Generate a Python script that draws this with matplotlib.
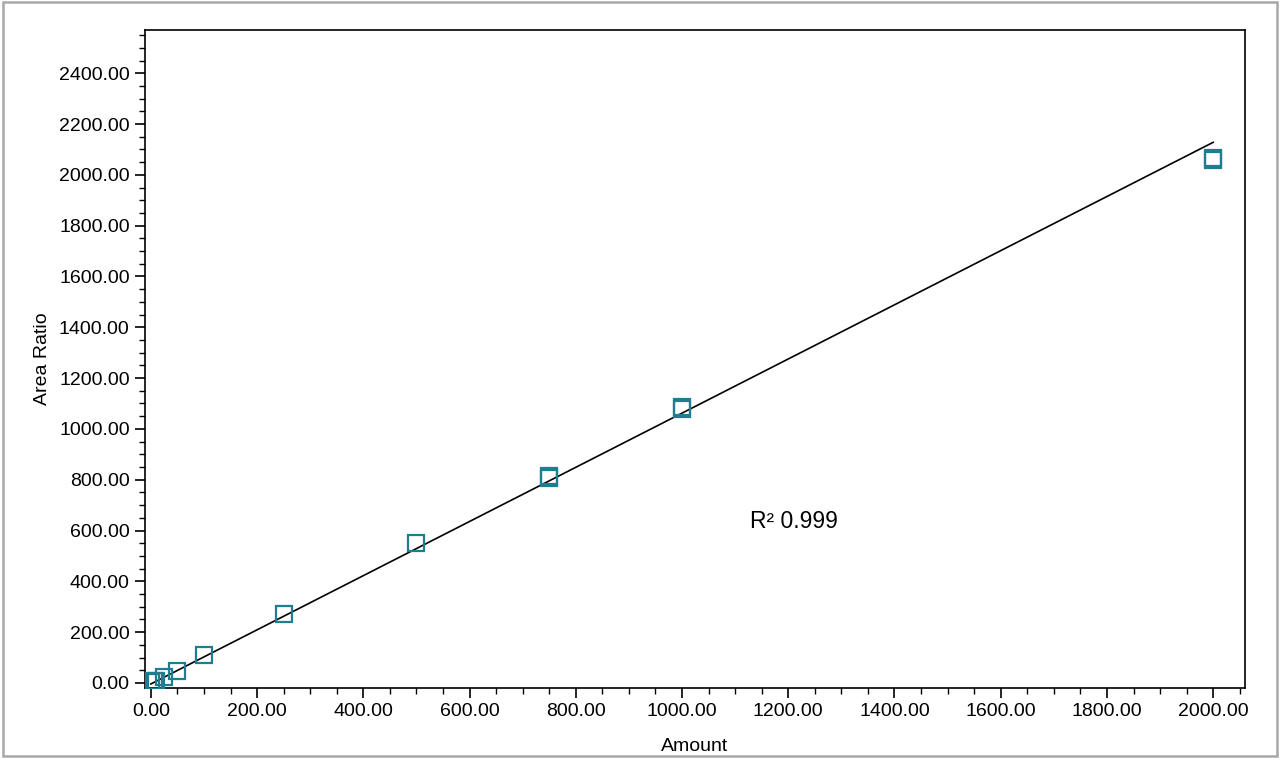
import numpy as np
import matplotlib
matplotlib.use("Agg")
import matplotlib.pyplot as plt
from matplotlib.patches import Rectangle
from matplotlib.ticker import MultipleLocator, FormatStrFormatter

plt.rcParams["font.family"] = ["Liberation Sans", "DejaVu Sans"]

# calibration standards (replicates at the upper levels)
amount = [1, 5, 10, 25, 50, 100, 250, 500, 750, 750, 1000, 1000, 2000, 2000]
area_ratio = [2, 6, 9, 23, 47, 112, 270, 551, 808, 816, 1080, 1086, 2058, 2066]

# fitted calibration line
fit_slope = 1.066
fit_intercept = -4.0
fit_x = [0, 2000]
r2_text = "R\u00b2 0.999"

teal = "#1f7d90"

fig = plt.figure(figsize=(12.8, 7.58), dpi=100)
ax = fig.add_axes([0.1133, 0.0923, 0.8594, 0.8681])

fx = np.array(fit_x, dtype=float)
ax.plot(fx, fit_slope * fx + fit_intercept, color="black", lw=1.2, zorder=2)
ax.plot(amount, area_ratio, linestyle="none", marker="s", markersize=11,
        markerfacecolor="none", markeredgecolor=teal, markeredgewidth=1.6, zorder=3)

ax.set_xlim(-11, 2060)
ax.set_ylim(-20, 2570)
ax.xaxis.set_major_locator(MultipleLocator(200))
ax.xaxis.set_minor_locator(MultipleLocator(50))
ax.yaxis.set_major_locator(MultipleLocator(200))
ax.yaxis.set_minor_locator(MultipleLocator(50))
ax.xaxis.set_major_formatter(FormatStrFormatter("%.2f"))
ax.yaxis.set_major_formatter(FormatStrFormatter("%.2f"))
ax.tick_params(which="major", direction="out", length=7, width=1.2, labelsize=14, pad=4)
ax.tick_params(which="minor", direction="out", length=4, width=1.0)
for s in ax.spines.values():
    s.set_linewidth(1.2)

ax.set_xlabel("Amount", fontsize=14, labelpad=13)
ax.set_ylabel("Area Ratio", fontsize=14, labelpad=6)

ax.text(1128, 634, r2_text, fontsize=16.5, va="center", ha="left")

fig.patches.append(Rectangle((0.002, 0.003), 0.996, 0.994, transform=fig.transFigure,
                             fill=False, edgecolor="#a8a8a8", lw=1.8))

fig.savefig("out.png", dpi=100)
